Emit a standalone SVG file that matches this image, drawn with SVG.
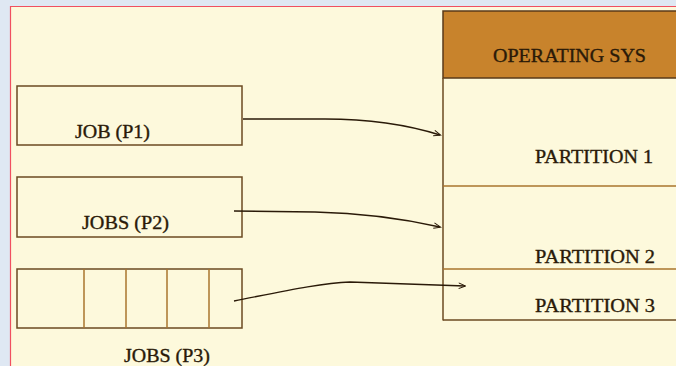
<svg xmlns="http://www.w3.org/2000/svg" width="676" height="366" viewBox="0 0 676 366">
  <style>
    .box { fill: none; stroke: #6b4a22; stroke-width: 1.5; }
    .div { stroke: #a8752e; stroke-width: 1.5; }
    .lbl { font-family: "Liberation Serif", "DejaVu Serif", serif; font-size: 19px; fill: #2a1a08; stroke: #2a1a08; stroke-width: 0.35; }
    .wire { fill: none; stroke: #2a1a08; stroke-width: 1.4; marker-end: url(#head); }
  </style>
  <defs>
    <marker id="head" viewBox="0 0 10 10" refX="9" refY="5" markerWidth="9" markerHeight="7" orient="auto" markerUnits="userSpaceOnUse">
      <path d="M0,1 L10,5 L0,9" fill="none" stroke="#2a1a08" stroke-width="1.4"/>
    </marker>
  </defs>

  <!-- page background -->
  <rect x="0" y="0" width="676" height="366" fill="#dfe8f3"/>
  <rect x="10" y="6" width="666" height="360" fill="#fdf9dc"/>
  <line x1="10.5" y1="6" x2="10.5" y2="366" stroke="#f05060" stroke-width="1.2"/>
  <line x1="10" y1="6.5" x2="676" y2="6.5" stroke="#f05060" stroke-width="1.2"/>

  <!-- jobs -->
  <g id="job-p1">
    <rect class="box" x="17" y="86" width="225" height="59"/>
    <text class="lbl" x="75" y="138" textLength="75" lengthAdjust="spacingAndGlyphs">JOB (P1)</text>
  </g>
  <g id="jobs-p2">
    <rect class="box" x="17" y="177" width="225" height="60"/>
    <text class="lbl" x="82" y="229" textLength="87" lengthAdjust="spacingAndGlyphs">JOBS (P2)</text>
  </g>
  <g id="jobs-p3">
    <rect class="box" x="17" y="269" width="225" height="59"/>
    <line class="div" x1="84" y1="269" x2="84" y2="328"/>
    <line class="div" x1="126" y1="269" x2="126" y2="328"/>
    <line class="div" x1="167" y1="269" x2="167" y2="328"/>
    <line class="div" x1="209" y1="269" x2="209" y2="328"/>
    <text class="lbl" x="124" y="362" textLength="86" lengthAdjust="spacingAndGlyphs">JOBS (P3)</text>
  </g>

  <!-- memory -->
  <g id="memory">
    <rect x="443" y="11" width="240" height="67" fill="#c8832c" stroke="#5a3a18" stroke-width="1.5"/>
    <text class="lbl" x="493" y="62" textLength="153" lengthAdjust="spacingAndGlyphs">OPERATING SYS</text>
    <line x1="443" y1="78" x2="443" y2="320.5" stroke="#6b4a22" stroke-width="1.5"/>
    <line x1="443" y1="320" x2="676" y2="320" stroke="#6b4a22" stroke-width="1.5"/>
  </g>
  <g id="partition-1">
    <text class="lbl" x="535" y="163" textLength="118" lengthAdjust="spacingAndGlyphs">PARTITION 1</text>
  </g>
  <g id="partition-2">
    <line class="div" x1="443" y1="186" x2="676" y2="186"/>
    <text class="lbl" x="535" y="263" textLength="120" lengthAdjust="spacingAndGlyphs">PARTITION 2</text>
  </g>
  <g id="partition-3">
    <line class="div" x1="443" y1="269" x2="676" y2="269"/>
    <text class="lbl" x="535" y="312" textLength="120" lengthAdjust="spacingAndGlyphs">PARTITION 3</text>
  </g>

  <!-- connectors -->
  <g id="connectors">
    <path class="wire" d="M243,119 L325,119 C370,119 405,124 440,135"/>
    <path class="wire" d="M234,211 L315,212 C360,213 400,218 440,227"/>
    <path class="wire" d="M234,301 C280,292 320,283 350,282 L465,286"/>
  </g>
</svg>
